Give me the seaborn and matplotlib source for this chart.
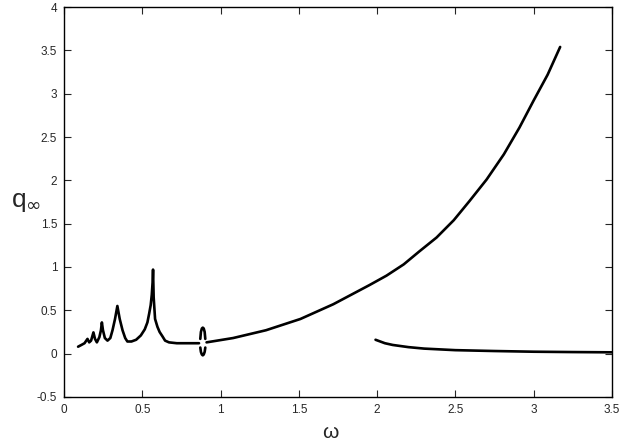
import pandas as pd
import numpy as np
import matplotlib
matplotlib.use("Agg")
import matplotlib.pyplot as plt
import seaborn as sns

# low-frequency branch with resonance peaks
w_low = [0.089, 0.11, 0.13, 0.149, 0.16, 0.172, 0.187, 0.197, 0.209, 0.225, 0.235, 0.241,
         0.248, 0.26, 0.277, 0.295, 0.309, 0.325, 0.34, 0.355, 0.373, 0.39, 0.404, 0.43,
         0.46, 0.49, 0.515, 0.532, 0.543, 0.553, 0.56, 0.565, 0.568, 0.572, 0.581, 0.596,
         0.61, 0.628, 0.645, 0.67, 0.72, 0.78, 0.837, 0.862]
q_low = [0.08, 0.10, 0.12, 0.17, 0.13, 0.15, 0.245, 0.17, 0.13, 0.19, 0.27, 0.36,
         0.27, 0.18, 0.15, 0.18, 0.27, 0.40, 0.55, 0.40, 0.27, 0.18, 0.14, 0.14,
         0.16, 0.21, 0.28, 0.36, 0.46, 0.56, 0.68, 0.82, 0.97, 0.65, 0.40, 0.31,
         0.25, 0.20, 0.15, 0.13, 0.12, 0.12, 0.12, 0.12]

# small loop near omega ~ 0.88
w_loop_up = [0.870, 0.874, 0.880, 0.886, 0.892, 0.898, 0.902]
q_loop_up = [0.17, 0.25, 0.29, 0.30, 0.29, 0.25, 0.17]
w_loop_dn = [0.870, 0.874, 0.880, 0.886, 0.892, 0.898, 0.902]
q_loop_dn = [0.07, 0.02, -0.01, -0.02, -0.01, 0.02, 0.07]

# rising branch
w_high = [0.91, 1.08, 1.29, 1.51, 1.72, 1.95, 2.06, 2.17, 2.27, 2.38, 2.49, 2.59,
          2.70, 2.81, 2.91, 3.00, 3.09, 3.17]
q_high = [0.13, 0.18, 0.27, 0.40, 0.57, 0.79, 0.90, 1.03, 1.18, 1.34, 1.54, 1.76,
          2.01, 2.30, 2.61, 2.92, 3.22, 3.54]

# decaying branch
w_tail = [1.99, 2.05, 2.10, 2.20, 2.30, 2.50, 2.75, 3.00, 3.25, 3.50]
q_tail = [0.16, 0.12, 0.10, 0.075, 0.058, 0.04, 0.03, 0.022, 0.018, 0.015]

xticks = [0, 0.5, 1, 1.5, 2, 2.5, 3, 3.5]
yticks = [-0.5, 0, 0.5, 1, 1.5, 2, 2.5, 3, 3.5, 4]

sns.set_style("ticks")
plt.rcParams['font.family'] = ['Liberation Sans', 'DejaVu Sans']

fig = plt.figure(figsize=(6.23, 4.44), dpi=100)
ax = fig.add_axes([0.103, 0.106, 0.879, 0.878])

for w, q in [(w_low, q_low), (w_loop_up, q_loop_up), (w_loop_dn, q_loop_dn),
             (w_high, q_high), (w_tail, q_tail)]:
    sns.lineplot(x=w, y=q, sort=False, color='black', linewidth=1.9, ax=ax)

ax.set_xlim(0, 3.5)
ax.set_ylim(-0.5, 4)
ax.set_xticks(xticks)
ax.set_xticklabels([f"{t:g}" for t in xticks])
ax.set_yticks(yticks)
ax.set_yticklabels([f"{t:g}" for t in yticks])
ax.tick_params(direction='in', length=5, width=0.8, labelsize=8.5, top=True, right=True,
               labeltop=False, labelright=False, pad=5)
for s in ax.spines.values():
    s.set_linewidth(1.0)
    s.set_color('black')

fig.text(0.53, 0.025, 'ω', ha='center', va='center', fontsize=15)
fig.text(0.042, 0.545, r'q$_{\infty}$', ha='center', va='center', fontsize=19)

fig.savefig('out.png', dpi=100)
